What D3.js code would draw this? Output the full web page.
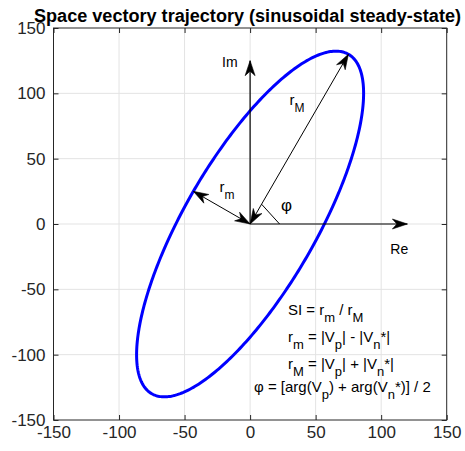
<!DOCTYPE html>
<html>
<head>
<meta charset="utf-8">
<script src="https://cdn.jsdelivr.net/npm/d3@7"></script>
<style>
  body { margin: 0; background: #fff; }
  svg { display: block; }
</style>
</head>
<body>
<script>
// ---- chart content ----
const titleText = "Space vectory trajectory (sinusoidal steady-state)";
const xTicks = [-150, -100, -50, 0, 50, 100, 150];
const yTicks = [-150, -100, -50, 0, 50, 100, 150];

// phasor magnitudes |Vp| and |Vn*|, and the tilt angle of the major axis
const phasorNames = ["Vp", "Vn*"];
const phasorMagnitudes = [100, 50];
const phiDegrees = 60;

// reference axes drawn as arrows (Re along x, Im along y)
const axisArrowNames = ["Re", "Im"];
const axisArrowLengths = [120, 125];

// formula annotation, _{...} marks a subscript
const formulaLines = [
  "SI = r_{m} / r_{M}",
  "r_{m} = |V_{p}| - |V_{n}*|",
  "r_{M} = |V_{p}| + |V_{n}*|",
  "φ = [arg(V_{p}) + arg(V_{n}*)] / 2"
];

// ---- layout ----
const W = 465, H = 451;
const x = d3.scaleLinear().domain([-150, 150]).range([53.5, 446.7]);
const y = d3.scaleLinear().domain([-150, 150]).range([420, 28]);
const FONT = "'Liberation Sans', Arial, Helvetica, sans-serif";

const svg = d3.select("body").append("svg")
  .attr("width", W).attr("height", H)
  .style("font-family", FONT);

// grid
const grid = svg.append("g").attr("stroke", "#e3e3e3").attr("stroke-width", 1);
grid.selectAll("line.gx").data(xTicks.slice(1, -1)).join("line")
  .attr("x1", d => x(d)).attr("x2", d => x(d))
  .attr("y1", y(-150)).attr("y2", y(150));
grid.selectAll("line.gy").data(yTicks.slice(1, -1)).join("line")
  .attr("y1", d => y(d)).attr("y2", d => y(d))
  .attr("x1", x(-150)).attr("x2", x(150));

// trajectory v(θ) = |Vp|·e^{j(θ+φ)} + |Vn*|·e^{j(φ-θ)}
const phi = phiDegrees * Math.PI / 180;
const [vp, vn] = phasorMagnitudes;
const thetas = d3.range(0, 361, 1).map(d => d * Math.PI / 180);
const trajectory = thetas.map(t => [
  vp * Math.cos(t + phi) + vn * Math.cos(phi - t),
  vp * Math.sin(t + phi) + vn * Math.sin(phi - t)
]);
const rM = vp + vn, rm = vp - vn;

svg.append("path")
  .datum(trajectory)
  .attr("fill", "none")
  .attr("stroke", "#0000ff")
  .attr("stroke-width", 3)
  .attr("d", d3.line().x(d => x(d[0])).y(d => y(d[1])));

// axes (ticks point inward on all four sides)
const plain = d => String(d);
function styleAxis(g) {
  g.select(".domain").remove();
  g.selectAll(".tick line").attr("stroke", "#262626");
  g.selectAll(".tick text").attr("fill", "#262626")
    .style("font-family", FONT).style("font-size", "17px");
}
svg.append("g").attr("transform", `translate(0,${y(-150)})`)
  .call(d3.axisBottom(x).tickValues(xTicks).tickFormat(plain).tickSize(-5).tickPadding(6))
  .call(styleAxis);
svg.append("g").attr("transform", `translate(${x(-150)},0)`)
  .call(d3.axisLeft(y).tickValues(yTicks).tickFormat(plain).tickSize(-5).tickPadding(8))
  .call(styleAxis);
svg.append("g").attr("transform", `translate(0,${y(150)})`)
  .call(d3.axisTop(x).tickValues(xTicks).tickSize(-5).tickFormat(""))
  .call(styleAxis);
svg.append("g").attr("transform", `translate(${x(150)},0)`)
  .call(d3.axisRight(y).tickValues(yTicks).tickSize(-5).tickFormat(""))
  .call(styleAxis);

svg.append("rect")
  .attr("x", x(-150)).attr("y", y(150))
  .attr("width", x(150) - x(-150)).attr("height", y(-150) - y(150))
  .attr("fill", "none").attr("stroke", "#262626").attr("stroke-width", 1);

// title
svg.append("text")
  .attr("x", 247.5).attr("y", 21.5)
  .attr("text-anchor", "middle")
  .attr("font-weight", "bold").attr("font-size", 17.5).attr("fill", "#000")
  .attr("textLength", 427).attr("lengthAdjust", "spacingAndGlyphs")
  .text(titleText);

// ---- arrows ----
const arrows = svg.append("g");
function head(px, py, fromX, fromY) {
  const a = Math.atan2(py - fromY, px - fromX);
  const L = 15, Wd = 5, N = 10.5;
  const pt = (u, v) => [px + u * Math.cos(a) - v * Math.sin(a), py + u * Math.sin(a) + v * Math.cos(a)];
  const p = [pt(0, 0), pt(-L, -Wd), pt(-N, 0), pt(-L, Wd)];
  arrows.append("path")
    .attr("d", "M" + p.map(q => q.join(",")).join("L") + "Z")
    .attr("fill", "#000").attr("stroke", "#000").attr("stroke-width", 0.6)
    .attr("stroke-linejoin", "miter");
}
function arrow(x0, y0, x1, y1, both, width) {
  const X0 = x(x0), Y0 = y(y0), X1 = x(x1), Y1 = y(y1);
  arrows.append("line")
    .attr("x1", X0).attr("y1", Y0).attr("x2", X1).attr("y2", Y1)
    .attr("stroke", "#000").attr("stroke-width", width);
  head(X1, Y1, X0, Y0);
  if (both) head(X0, Y0, X1, Y1);
}

// Re and Im axes
arrow(0, 0, axisArrowLengths[0], 0, false, 1.2);
arrow(0, 0, 0, axisArrowLengths[1], false, 1.2);
// major / minor radii
arrow(0, 0, rM * Math.cos(phi), rM * Math.sin(phi), true, 1);
arrow(0, 0, rm * Math.cos(phi + Math.PI / 2), rm * Math.sin(phi + Math.PI / 2), true, 1);
// angle marker between Re and the major axis
arrows.append("line")
  .attr("x1", x(17.5 * Math.cos(phi))).attr("y1", y(17.5 * Math.sin(phi)))
  .attr("x2", x(22.5)).attr("y2", y(0))
  .attr("stroke", "#000").attr("stroke-width", 1);

// ---- text helpers ----
function richText(g, str, px, py, size, subSize, subDrop) {
  const t = g.append("text").attr("x", px).attr("y", py)
    .attr("font-size", size).attr("fill", "#000");
  const parts = str.split(/(_\{[^}]*\})/).filter(s => s.length);
  let down = false;
  parts.forEach(p => {
    const m = p.match(/^_\{([^}]*)\}$/);
    if (m) {
      t.append("tspan").attr("dy", subDrop).attr("font-size", subSize).text(m[1]);
      down = true;
    } else {
      const s = t.append("tspan").text(p);
      if (down) { s.attr("dy", -subDrop); down = false; }
    }
  });
  return t;
}

const labels = svg.append("g");
richText(labels, axisArrowNames[1], x(0) - 28, y(120), 14, 11, 6);
richText(labels, axisArrowNames[0], x(107), y(0) + 29.5, 14, 11, 6);
richText(labels, "r_{M}", 289.5, 105, 15, 12, 7);
richText(labels, "r_{m}", 219.5, 192, 15, 12, 7);
richText(labels, "φ", 281, 211, 17, 12, 7);

// formula block
const fx = [288, 288, 288, 254];
const fy = [315, 342, 369, 392];
formulaLines.forEach((s, i) => richText(labels, s, fx[i], fy[i], 15, 13, 6.5));
</script>
</body>
</html>
